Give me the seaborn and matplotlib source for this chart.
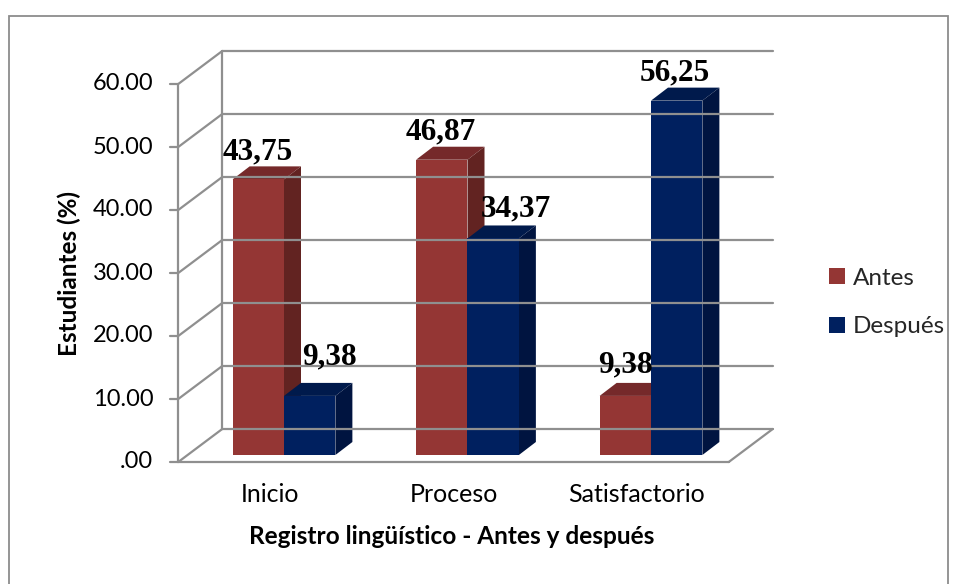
import numpy as np
import pandas as pd
import matplotlib
matplotlib.use("Agg")
import matplotlib.pyplot as plt
import seaborn as sns
from matplotlib.transforms import IdentityTransform
from matplotlib.patches import Polygon, Rectangle
from matplotlib.lines import Line2D

# ---------------- data ----------------
categories = ["Inicio", "Proceso", "Satisfactorio"]
series = ["Antes", "Después"]
antes = [43.75, 46.87, 9.38]
despues = [9.38, 34.37, 56.25]
labels_antes = ["43,75", "46,87", "9,38"]
labels_despues = ["9,38", "34,37", "56,25"]
yticks = [0, 10, 20, 30, 40, 50, 60]
ytick_labels = [".00", "10.00", "20.00", "30.00", "40.00", "50.00", "60.00"]
ylabel = "Estudiantes (%)"
xlabel = "Registro lingüístico - Antes y después"

df = pd.DataFrame({
    "Registro": categories * 2,
    "Serie": [s for s in series for _ in categories],
    "Valor": antes + despues,
})

# ---------------- style ----------------
sns.set_theme(style="white")
plt.rcParams["font.family"] = ["Lato", "DejaVu Sans"]

front_col = {"Antes": "#943634", "Después": "#00205f"}
side_col = {"Antes": "#622321", "Después": "#001440"}
top_col = {"Antes": "#75292a", "Después": "#001a4c"}
grid_col = "#8f8f8f"

W, H = 956, 584
fig = plt.figure(figsize=(W / 100, H / 100), dpi=100)
ax = fig.add_axes([192.25 / W, (H - 455) / H, 550.5 / W, 378 / H])

sns.barplot(data=df, x="Registro", y="Valor", hue="Serie", palette=front_col,
            width=0.56, saturation=1, linewidth=0, ax=ax, legend=False)
ax.set_xlim(-0.5, 2.5)
ax.set_ylim(0, 60)
ax.set_axis_off()

# pixel offsets (x right, y up) relative to bar plane
FRONT = (-14, -7)
BACK = (30, 26)
DX, DY = 17, 13
ID = IdentityTransform()


def px(x, y, off=(0, 0)):
    p = ax.transData.transform((x, y))
    return p[0] + off[0], p[1] + off[1]


def line(p, q, **kw):
    kw.setdefault("color", grid_col)
    kw.setdefault("lw", 1.6)
    fig.add_artist(Line2D([p[0], q[0]], [p[1], q[1]], transform=ID, **kw))


# walls / floor / grid
x0, x1 = -0.5, 2.5
for t in yticks:
    line(px(x0, t, BACK), px(x1, t, BACK), zorder=1)
    line(px(x0, t, FRONT), px(x0, t, BACK), zorder=1)
    a = px(x0, t, FRONT)
    line((a[0] - 8, a[1]), a, zorder=1)
line(px(x0, 0, BACK), px(x0, 60, BACK), zorder=1)
line(px(x0, 0, FRONT), px(x0, 60, FRONT), zorder=1)
line(px(x0, 0, FRONT), px(x1, 0, FRONT), zorder=1)
line(px(x1, 0, FRONT), px(x1, 0, BACK), zorder=1)

# tick labels
for t, lab in zip(yticks, ytick_labels):
    a = px(x0, t, FRONT)
    fig.text(a[0] - 25, a[1], lab, transform=ID, ha="right", va="center",
             fontsize=17, color="black")

# 3D bars
label_sets = [labels_antes, labels_despues]
# label nudges (px) per series, per category
nudges = [[(-1, 1), (-1, 1), (0, 4)],
          [(20, 12), (23, 3), (-2, 1)]]
for si, (s, cont) in enumerate(zip(series, ax.containers)):
    base = 3 + si
    for bi, p in enumerate(cont.patches):
        bx0, bw, bh = p.get_x(), p.get_width(), p.get_height()
        p.set_zorder(base + 0.5)
        br = px(bx0 + bw, 0)
        tl = px(bx0, bh)
        tr = px(bx0 + bw, bh)
        top = Polygon([tl, tr, (tr[0] + DX, tr[1] + DY), (tl[0] + DX, tl[1] + DY)],
                      closed=True, transform=ID, facecolor=top_col[s],
                      edgecolor="none", zorder=base)
        side = Polygon([br, tr, (tr[0] + DX, tr[1] + DY), (br[0] + DX, br[1] + DY)],
                       closed=True, transform=ID, facecolor=side_col[s],
                       edgecolor="none", zorder=base)
        ax.add_artist(top)
        ax.add_artist(side)
        cx = (tl[0] + tr[0]) / 2
        n = nudges[si][bi]
        fig.text(cx + n[0], tl[1] + 19 + n[1], label_sets[si][bi], transform=ID,
                 ha="center", va="baseline", fontsize=22.5, fontweight="bold",
                 family=["Liberation Serif", "DejaVu Serif"], color="black",
                 zorder=10)

# category labels
for i, c in enumerate(categories):
    a = px(i, 0, FRONT)
    fig.text(a[0], a[1] - 33, c, transform=ID, ha="center", va="center",
             fontsize=18, color="black")

# axis titles
fig.text(69, H - 274, ylabel, transform=ID, rotation=90, ha="center",
         va="center", fontsize=17.5, fontweight="bold", color="black")
fig.text(452, H - 537, xlabel, transform=ID, ha="center", va="center",
         fontsize=17.6, fontweight="bold", color="black")

# legend
handles = [Rectangle((0, 0), 1, 1, facecolor=front_col[s], edgecolor="none")
           for s in series]
fig.legend(handles, series, loc="center left",
           bbox_to_anchor=(829 / W, 1 - 302.5 / H), bbox_transform=fig.transFigure,
           frameon=False, fontsize=17.5, handlelength=0.65, handleheight=0.65,
           handletextpad=0.33, labelspacing=1.15, borderpad=0, borderaxespad=0)

# outer chart border
fig.add_artist(Rectangle((8.5, -10), 939.5, H - 15 + 10 - 0.5, transform=ID,
                         fill=False, edgecolor="#8c8c8c", lw=1.3, zorder=0))

fig.savefig("out.png", dpi=100)
